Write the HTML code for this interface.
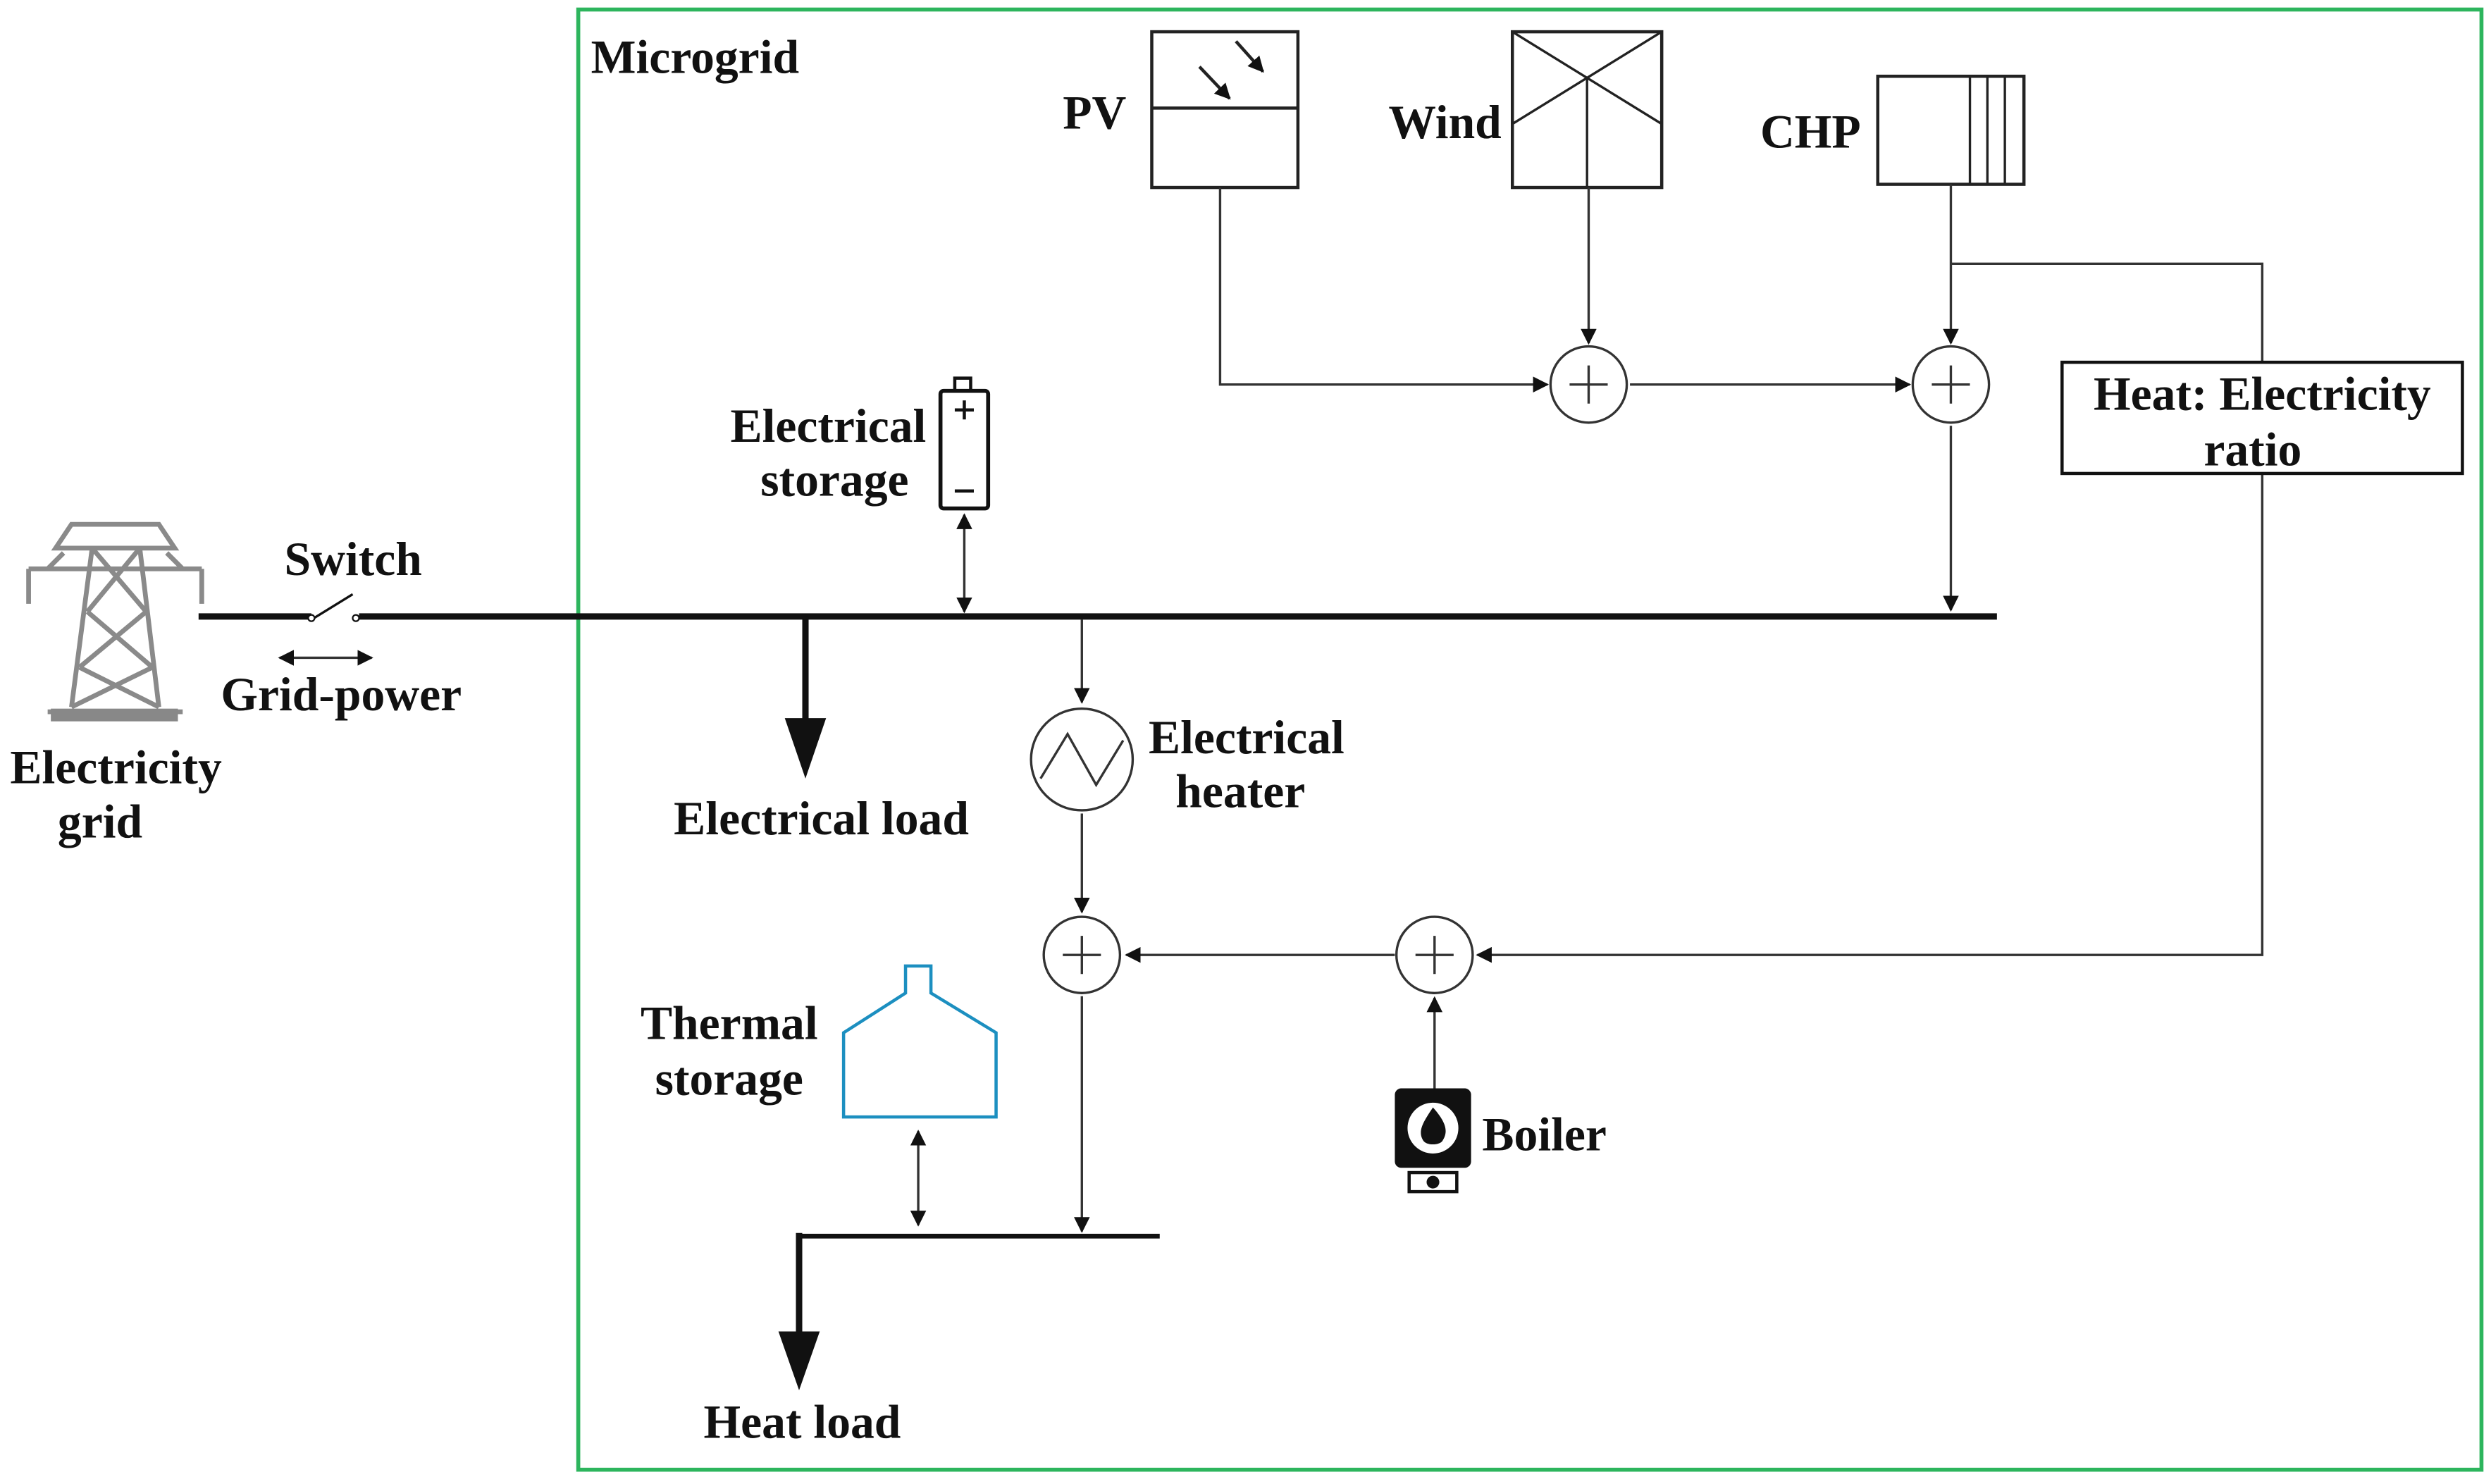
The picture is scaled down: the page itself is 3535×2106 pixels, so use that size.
<!DOCTYPE html>
<html><head><meta charset="utf-8"><style>
html,body{margin:0;padding:0;background:#fff;}
svg{display:block;}
text{font-family:"Liberation Serif",serif;font-weight:bold;font-size:30px;fill:#111;}
</style></head><body>
<svg width="3535" height="2106" viewBox="0 0 1568 934" preserveAspectRatio="none" xmlns="http://www.w3.org/2000/svg">
<defs>
<marker id="a" markerWidth="10" markerHeight="10" refX="9" refY="5" orient="auto" markerUnits="userSpaceOnUse"><path d="M0,0 L10,5 L0,10 Z" fill="#111"/></marker>
<marker id="as" markerWidth="10" markerHeight="10" refX="1" refY="5" orient="auto" markerUnits="userSpaceOnUse"><path d="M10,0 L0,5 L10,10 Z" fill="#111"/></marker>
</defs>
<rect x="364" y="6" width="1198" height="919" fill="none" stroke="#2db55d" stroke-width="2.5"/>
<text x="372" y="46">Microgrid</text>

<!-- PV -->
<rect x="725" y="20" width="92" height="98" fill="#fff" stroke="#222" stroke-width="2"/>
<line x1="725" y1="68" x2="817" y2="68" stroke="#222" stroke-width="2"/>
<line x1="755" y1="42" x2="774" y2="62" stroke="#222" stroke-width="2" marker-end="url(#a)"/>
<line x1="778" y1="26" x2="795" y2="45" stroke="#222" stroke-width="2" marker-end="url(#a)"/>
<text x="669" y="81">PV</text>

<!-- Wind -->
<rect x="952" y="20" width="94" height="98" fill="#fff" stroke="#222" stroke-width="2"/>
<line x1="952" y1="20" x2="1046" y2="78" stroke="#222" stroke-width="1.5"/>
<line x1="1046" y1="20" x2="952" y2="78" stroke="#222" stroke-width="1.5"/>
<line x1="999" y1="49" x2="999" y2="118" stroke="#222" stroke-width="1.5"/>
<text x="874" y="87">Wind</text>

<!-- CHP -->
<rect x="1182" y="48" width="92" height="68" fill="#fff" stroke="#222" stroke-width="2"/>
<line x1="1240" y1="48" x2="1240" y2="116" stroke="#222" stroke-width="1.5"/>
<line x1="1251" y1="48" x2="1251" y2="116" stroke="#222" stroke-width="1.5"/>
<line x1="1262" y1="48" x2="1262" y2="116" stroke="#222" stroke-width="1.5"/>
<text x="1108" y="93">CHP</text>

<g stroke="#333" stroke-width="1.5" fill="none">
<polyline points="768,118 768,242 974,242" marker-end="url(#a)"/>
<line x1="1000" y1="118" x2="1000" y2="216" marker-end="url(#a)"/>
<line x1="1026" y1="242" x2="1202" y2="242" marker-end="url(#a)"/>
<line x1="1228" y1="116" x2="1228" y2="216" marker-end="url(#a)"/>
<polyline points="1228,166 1424,166 1424,228"/>
<polyline points="1424,298 1424,601 930,601" marker-end="url(#a)"/>
<line x1="1228" y1="268" x2="1228" y2="384" marker-end="url(#a)"/>
<line x1="681" y1="390" x2="681" y2="442" marker-end="url(#a)"/>
<line x1="681" y1="512" x2="681" y2="574" marker-end="url(#a)"/>
<line x1="878" y1="601" x2="709" y2="601" marker-end="url(#a)"/>
<line x1="903" y1="685" x2="903" y2="628" marker-end="url(#a)"/>
<line x1="681" y1="627" x2="681" y2="775" marker-end="url(#a)"/>
<line x1="607" y1="324" x2="607" y2="385" marker-start="url(#as)" marker-end="url(#a)"/>
<line x1="578" y1="712" x2="578" y2="771" marker-start="url(#as)" marker-end="url(#a)"/>
<line x1="176" y1="414" x2="234" y2="414" marker-start="url(#as)" marker-end="url(#a)"/>
</g>

<g stroke="#333" stroke-width="1.5" fill="#fff">
<circle cx="1000" cy="242" r="24"/><circle cx="1228" cy="242" r="24"/>
<circle cx="681" cy="601" r="24"/><circle cx="903" cy="601" r="24"/>
</g>
<g stroke="#333" stroke-width="1.5">
<path d="M988,242 H1012 M1000,230 V254"/>
<path d="M1216,242 H1240 M1228,230 V254"/>
<path d="M669,601 H693 M681,589 V613"/>
<path d="M891,601 H915 M903,589 V613"/>
</g>

<rect x="1298" y="228" width="252" height="70" fill="#fff" stroke="#111" stroke-width="2"/>
<text x="1424" y="258" text-anchor="middle">Heat: Electricity</text>
<text x="1418" y="293" text-anchor="middle">ratio</text>

<line x1="125" y1="388" x2="196" y2="388" stroke="#111" stroke-width="4"/>
<line x1="196" y1="390" x2="222" y2="374" stroke="#111" stroke-width="1.5"/>
<circle cx="196" cy="389" r="2" fill="#fff" stroke="#111"/>
<circle cx="224" cy="389" r="2" fill="#fff" stroke="#111"/>
<line x1="226" y1="388" x2="1257" y2="388" stroke="#111" stroke-width="4"/>
<text x="179" y="362">Switch</text>
<text x="139" y="447">Grid-power</text>

<line x1="507" y1="388" x2="507" y2="455" stroke="#111" stroke-width="4"/>
<path d="M494,452 L520,452 L507,490 Z" fill="#111"/>
<text x="517" y="525" text-anchor="middle">Electrical load</text>

<rect x="601" y="238" width="10" height="8" fill="#fff" stroke="#111" stroke-width="2"/>
<rect x="592" y="246" width="30" height="74" rx="2" fill="#fff" stroke="#111" stroke-width="2.5"/>
<path d="M601,258 H613 M607,252 V264 M601,309 H613" stroke="#111" stroke-width="2"/>
<text x="583" y="278" text-anchor="end">Electrical</text>
<text x="572" y="312" text-anchor="end">storage</text>

<circle cx="681" cy="478" r="32" fill="#fff" stroke="#333" stroke-width="1.5"/>
<path d="M655,490 L672,462 L690,494 L707,466" fill="none" stroke="#333" stroke-width="1.5"/>
<text x="723" y="474">Electrical</text>
<text x="740" y="508">heater</text>

<rect x="878" y="685" width="48" height="50" rx="4" fill="#111"/>
<circle cx="902" cy="710" r="16" fill="#fff"/>
<path d="M902,697 C910,706 912,712 908,718 C906,721 898,721 896,718 C892,712 896,706 902,697 Z" fill="#111"/>
<rect x="887" y="738" width="30" height="12" fill="#fff" stroke="#111" stroke-width="2"/>
<circle cx="902" cy="744" r="4" fill="#111"/>
<text x="933" y="724">Boiler</text>

<path d="M531,650 L570,625 L570,608 L586,608 L586,625 L627,650 L627,703 L531,703 Z" fill="#fff" stroke="#1c8fc0" stroke-width="2"/>
<text x="459" y="654" text-anchor="middle">Thermal</text>
<text x="459" y="689" text-anchor="middle">storage</text>

<line x1="503" y1="778" x2="730" y2="778" stroke="#111" stroke-width="3"/>
<line x1="503" y1="776" x2="503" y2="840" stroke="#111" stroke-width="4"/>
<path d="M490,838 L516,838 L503,875 Z" fill="#111"/>
<text x="505" y="905" text-anchor="middle">Heat load</text>

<g stroke="#8a8a8a" stroke-width="3" fill="none">
<path d="M45,330 L35,345 L110,345 L100,330 Z"/>
<path d="M18,358 L127,358 M40,348 L30,358 M105,348 L115,358"/>
<path d="M58,345 L45,445 M88,345 L100,445"/>
<path d="M58,345 L92,385 M88,345 L55,385 M55,385 L96,420 M92,385 L50,420 M50,420 L100,445 M96,420 L45,445"/>
<path d="M30,448 H115"/>
<path d="M18,358 V380 M127,358 V380"/>
</g>
<rect x="32" y="446" width="80" height="8" fill="#888"/>
<text x="73" y="493" text-anchor="middle">Electricity</text>
<text x="63" y="527" text-anchor="middle">grid</text>
</svg>
</body></html>
